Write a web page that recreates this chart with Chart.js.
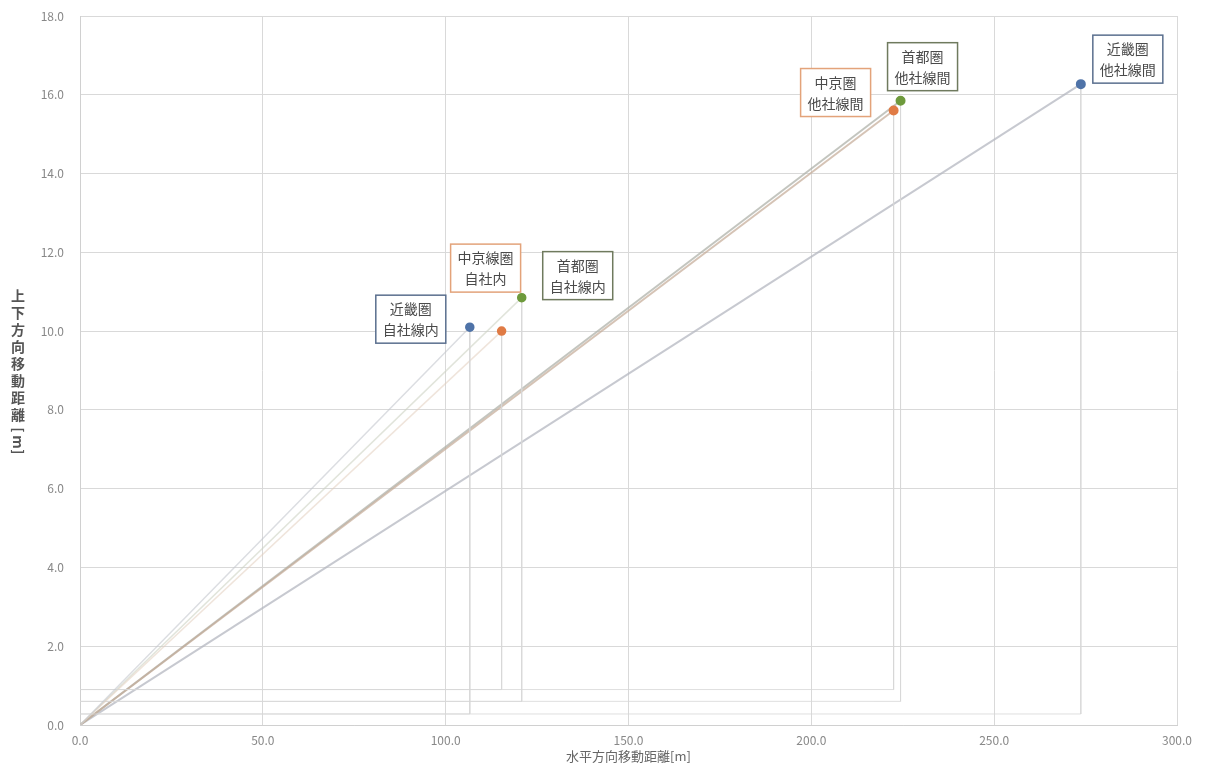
<!DOCTYPE html>
<html lang="ja">
<head>
<meta charset="utf-8">
<script src="https://cdn.jsdelivr.net/npm/chart.js@4.4.1/dist/chart.umd.min.js"></script>
<style>
  html, body { margin: 0; padding: 0; background: #fff; }
  #wrap { width: 1211px; height: 772px; position: relative; }
</style>
</head>
<body>
<div id="wrap"><canvas id="moveChart" width="1211" height="772"></canvas></div>
<script>
// 各地点の名称(2行表示)
const pointNames = [
    ['近畿圏', '自社線内'],
    ['中京線圏', '自社内'],
    ['首都圏', '自社線内'],
    ['中京圏', '他社線間'],
    ['首都圏', '他社線間'],
    ['近畿圏', '他社線間']
];
// 水平方向移動距離[m]
const horizontalDist = [106.6, 115.3, 120.8, 222.5, 224.4, 273.7];
// 上下方向移動距離[m]
const verticalDist = [10.1, 10.0, 10.85, 15.6, 15.85, 16.27];
// 補助線(L字)の高さ
const guideLevel = [0.28, 0.9, 0.6, 0.9, 0.6, 0.28];

const xTicks = [0, 50, 100, 150, 200, 250, 300];
const yTicks = [0, 2, 4, 6, 8, 10, 12, 14, 16, 18];

// 地域ごとの色
const REGION_COLORS = {
    '近畿圏': '#4f73a8',
    '中京圏': '#e07b45',
    '中京線圏': '#e07b45',
    '首都圏': '#6e9a3c'
};
const LINE_COLORS = [
    'rgba(195,198,205,0.6)',
    'rgba(225,205,190,0.55)',
    'rgba(205,210,195,0.6)',
    'rgba(195,170,150,0.7)',
    'rgba(175,178,170,0.75)',
    'rgba(180,183,192,0.75)'
];
const BOX_BORDERS = ['#5a6f8e', '#e3a37a', '#6f7a5e', '#e3a37a', '#6f7a5e', '#5a6f8e'];
// ラベル枠の位置(点からのずれ)
const LABEL_OFFSETS = [[-59, -8], [-16, -63], [56, -22], [-58, -18], [22, -34], [47, -25]];

const FONT = '"Noto Sans CJK JP", "Noto Sans", sans-serif';

const datasets = horizontalDist.map((x, i) => {
    const color = REGION_COLORS[pointNames[i][0]];
    return {
        label: pointNames[i].join(''),
        data: [
            { x: 0, y: 0 },
            { x: x, y: verticalDist[i] },
            { x: x, y: guideLevel[i] },
            { x: 0, y: guideLevel[i] }
        ],
        showLine: true,
        borderColor: LINE_COLORS[i],
        borderWidth: i >= 3 ? 2 : 1.5,
        pointRadius: [0, 4, 0, 0],
        pointBackgroundColor: color,
        pointBorderColor: color,
        segment: {
            borderColor: ctx => ctx.p0DataIndex >= 1 ? 'rgba(215,215,215,0.8)' : undefined,
            borderWidth: ctx => ctx.p0DataIndex >= 1 ? 1 : undefined
        }
    };
});

// ラベル枠と縦書きの軸タイトルを描くプラグイン
const labelPlugin = {
    id: 'pointLabels',
    afterDatasetsDraw(chart) {
        const { ctx, scales } = chart;
        ctx.save();
        ctx.font = '14px ' + FONT;
        ctx.textAlign = 'center';
        ctx.textBaseline = 'middle';
        horizontalDist.forEach((x, i) => {
            const px = scales.x.getPixelForValue(x);
            const py = scales.y.getPixelForValue(verticalDist[i]);
            const cx = px + LABEL_OFFSETS[i][0];
            const cy = py + LABEL_OFFSETS[i][1];
            const lines = pointNames[i];
            const w = Math.max(...lines.map(t => ctx.measureText(t).width)) + 14;
            const h = 48;
            ctx.fillStyle = '#ffffff';
            ctx.fillRect(cx - w / 2, cy - h / 2, w, h);
            ctx.strokeStyle = BOX_BORDERS[i];
            ctx.lineWidth = 1.5;
            ctx.strokeRect(cx - w / 2, cy - h / 2, w, h);
            ctx.fillStyle = '#4a4a4a';
            ctx.fillText(lines[0], cx, cy - 10);
            ctx.fillText(lines[1], cx, cy + 11);
        });
        // 縦軸タイトル(縦書き)
        const title = '上下方向移動距離[m]';
        ctx.font = 'bold 14px ' + FONT;
        ctx.fillStyle = '#555555';
        let ty = 296;
        for (const ch of title) {
            if (ch === '[' || ch === ']') {
                ctx.save();
                ctx.translate(18, ty - 2);
                ctx.rotate(Math.PI / 2);
                ctx.fillText(ch, 0, 0);
                ctx.restore();
                ty += 10;
            } else if (ch === 'm') {
                ctx.save();
                ctx.translate(18, ty);
                ctx.rotate(Math.PI / 2);
                ctx.fillText(ch, 0, 0);
                ctx.restore();
                ty += 12;
            } else {
                ctx.fillText(ch, 18, ty);
                ty += 17;
            }
        }
        ctx.restore();
    }
};

new Chart(document.getElementById('moveChart').getContext('2d'), {
    type: 'scatter',
    data: { datasets },
    plugins: [labelPlugin],
    options: {
        responsive: false,
        animation: false,
        layout: { padding: { top: 16, right: 34, left: 0, bottom: 0 } },
        plugins: {
            legend: { display: false },
            tooltip: { enabled: false }
        },
        scales: {
            x: {
                type: 'linear',
                min: 0,
                max: 300,
                afterBuildTicks: scale => { scale.ticks = xTicks.map(v => ({ value: v })); },
                afterFit: scale => { scale.height = 47; scale.paddingLeft = 0; scale.paddingRight = 0; },
                grid: { color: '#d9d9d9', lineWidth: 1, drawTicks: false },
                border: { color: '#d0d0d0' },
                ticks: {
                    padding: 8,
                    color: '#888888',
                    font: { family: FONT, size: 12 },
                    callback: v => v.toFixed(1)
                },
                title: {
                    display: true,
                    text: '水平方向移動距離[m]',
                    color: '#666666',
                    font: { family: FONT, size: 13 },
                    padding: { top: 0, bottom: 8 }
                }
            },
            y: {
                type: 'linear',
                min: 0,
                max: 18,
                afterBuildTicks: scale => { scale.ticks = yTicks.map(v => ({ value: v })); },
                afterFit: scale => { scale.width = 80; scale.paddingTop = 0; scale.paddingBottom = 0; },
                grid: { color: '#d9d9d9', lineWidth: 1, drawTicks: false },
                border: { color: '#d0d0d0' },
                ticks: {
                    padding: 16,
                    color: '#888888',
                    font: { family: FONT, size: 12 },
                    callback: v => v.toFixed(1)
                }
            }
        }
    }
});
</script>
</body>
</html>
